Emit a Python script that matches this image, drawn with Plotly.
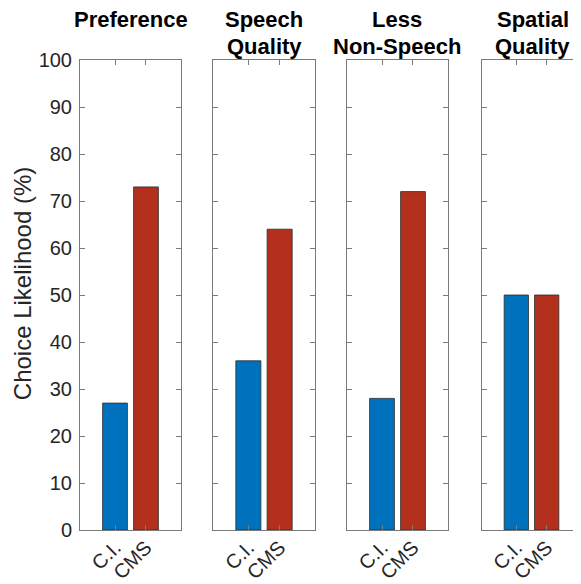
import plotly.graph_objects as go

panels = ["Preference", "Speech<br>Quality", "Less<br>Non-Speech", "Spatial<br>Quality"]
categories = ["C.I.", "CMS"]
ci_values = [27, 36, 28, 50]
cms_values = [73, 64, 72, 50]
y_ticks = [0, 10, 20, 30, 40, 50, 60, 70, 80, 90, 100]

# page body adds an 8px offset; figure coordinates are screen coordinates minus 8
OFF = 8
W, H = 581 - OFF, 584 - OFF
ML, MR = 0, 0
MT = 60 - OFF
MB = H - (530 - OFF)
PW = W - ML - MR
PH = H - MT - MB
domains_px = [(80, 181), (213, 315), (347, 448), (482, 583)]
title_line_y = [19, 46]  # screen y of title line centers

blue = "#0072BD"
red = "#B3311C"
font_family = "Liberation Sans, Arial, Helvetica, sans-serif"
txt = "#262626"
axc = "#7a7a7a"

fig = go.Figure()
for i, name in enumerate(panels):
    xa = "x" if i == 0 else f"x{i+1}"
    ya = "y" if i == 0 else f"y{i+1}"
    fig.add_trace(go.Bar(
        x=categories, y=[ci_values[i], cms_values[i]],
        marker=dict(color=[blue, red], line=dict(color="#2a2a2a", width=0.8)),
        width=0.8, xaxis=xa, yaxis=ya, showlegend=False,
    ))
    d0, d1 = domains_px[i][0] - OFF, domains_px[i][1] - OFF
    xkey = "xaxis" if i == 0 else f"xaxis{i+1}"
    ykey = "yaxis" if i == 0 else f"yaxis{i+1}"
    fig.layout[xkey] = dict(
        domain=[(d0 - ML) / PW, min(1.0, (d1 - ML) / PW)],
        type="category", range=[-1.13, 2.13],
        showline=True, linecolor=axc, linewidth=1, mirror="ticks",
        ticks="inside", ticklen=5, tickcolor=axc,
        tickangle=-45, showgrid=False, zeroline=False,
        tickfont=dict(family=font_family, size=20, color=txt),
        ticklabelstandoff=-3,
        anchor=ya, fixedrange=True, automargin=False,
    )
    fig.layout[ykey] = dict(
        domain=[0, 1], range=[0, 100], tickvals=y_ticks,
        showline=True, linecolor=axc, linewidth=1, mirror="ticks",
        ticks="inside", ticklen=5, tickcolor=axc,
        showticklabels=(i == 0), showgrid=False, zeroline=False,
        tickfont=dict(family=font_family, size=20, color=txt),
        ticklabelstandoff=3,
        anchor=xa, fixedrange=True, automargin=False,
    )
    for j, line in enumerate(name.split("<br>")):
        fy = title_line_y[j] - OFF
        fig.add_annotation(
            text=f"<b>{line}</b>", xref="paper", yref="paper",
            x=((d0 + d1) / 2 - ML) / PW,
            y=1 + (MT - fy) / PH, xanchor="center", yanchor="middle",
            showarrow=False, font=dict(family=font_family, size=22, color="#000000"),
        )

fig.add_annotation(
    text="Choice Likelihood (%)", xref="paper", yref="paper",
    x=(22 - OFF - ML) / PW, y=0.523, textangle=-90, xanchor="center", yanchor="middle",
    showarrow=False, font=dict(family=font_family, size=24, color=txt),
)

fig.update_layout(
    width=W, height=H,
    margin=dict(l=ML, r=MR, t=MT, b=MB, autoexpand=False),
    paper_bgcolor="white", plot_bgcolor="white",
    bargap=0.2,
)

fig.write_html("out.html")
